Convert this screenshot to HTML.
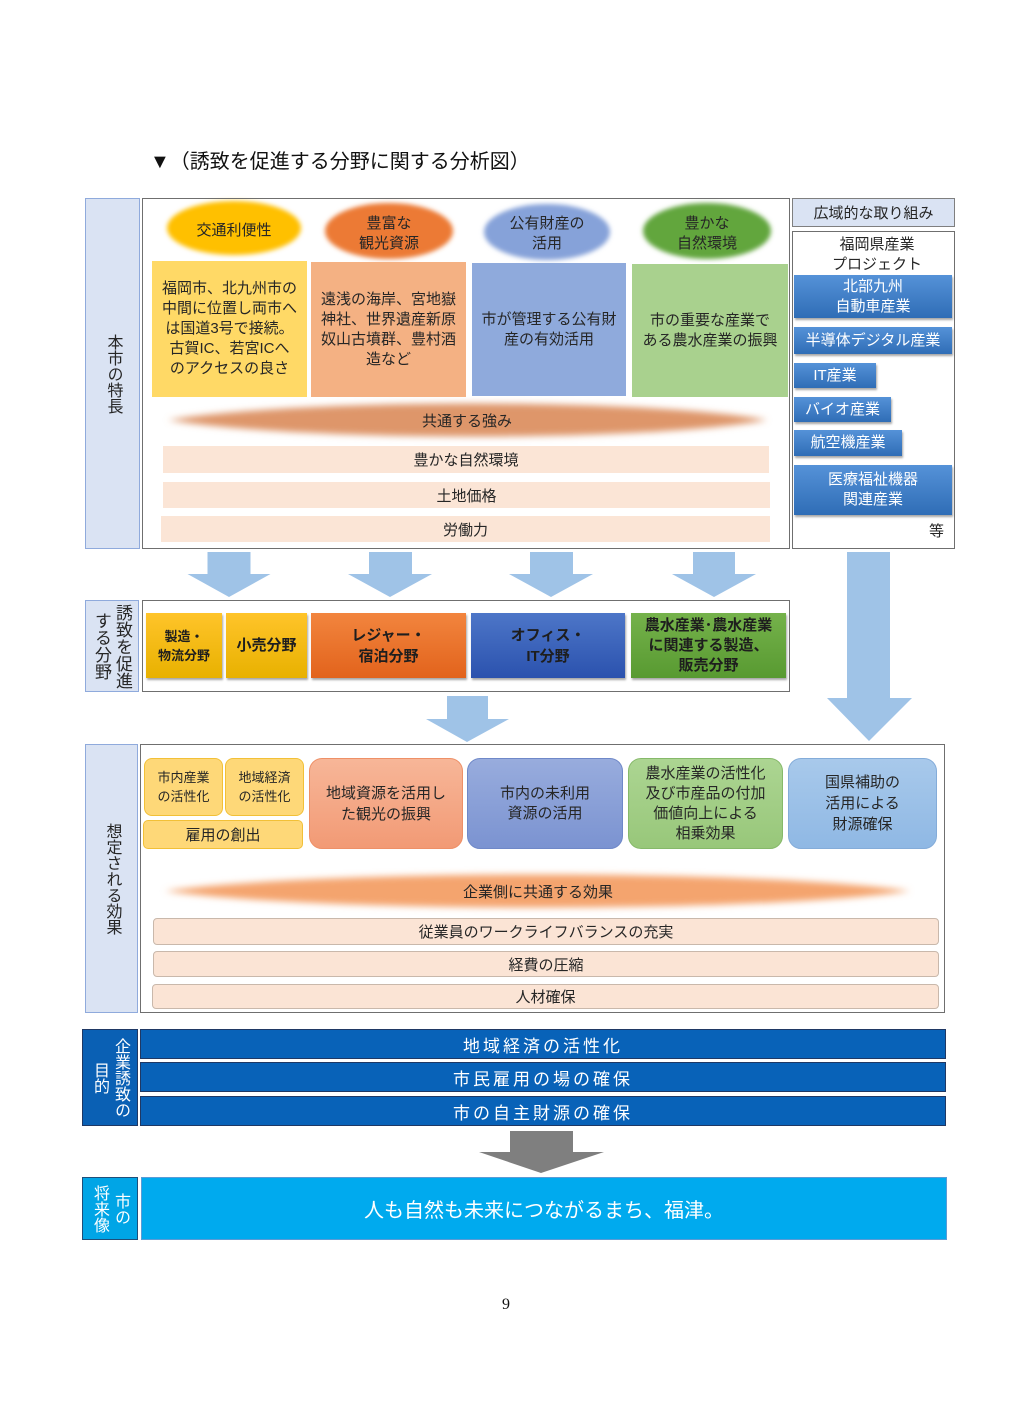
<!DOCTYPE html>
<html><head><meta charset="utf-8">
<style>
*{margin:0;padding:0;box-sizing:border-box}
body{width:1020px;height:1402px;background:#fff;position:relative;overflow:hidden;font-family:"Liberation Sans","Noto Sans CJK JP",sans-serif;color:#262626}
.a{position:absolute}
.c{display:flex;align-items:center;justify-content:center;text-align:center}
.v{writing-mode:vertical-rl;text-align:center}
.lbl{background:#dae3f3;border:1px solid #8faadc;font-size:16px;line-height:20px;color:#262626}
.frame{border:1px solid #6f6f6f}
.t15{font-size:15px;line-height:20px}
.rb{background:linear-gradient(#5592d8,#2f6db6);color:#fff;font-size:15px;line-height:20px;box-shadow:1px 2px 2px rgba(0,0,0,.35)}
.sb{font-size:15px;line-height:21px;font-weight:bold;color:#1e1e1e;box-shadow:1px 2px 2px rgba(0,0,0,.35)}
.bar1{background:#fbe5d6;font-size:15px}
.bar3{background:#fbe4d5;border:1px solid #c9b8ab;border-radius:4px;font-size:15px}
.blue{background:#0862b8;border:1px solid #1f3864;color:#fff;font-size:17px;letter-spacing:3px}
</style></head><body>

<div class="a" style="left:150px;top:151px;font-size:20px;line-height:22px;color:#111">▼（誘致を促進する分野に関する分析図）</div>

<svg class="a" style="left:0;top:0" width="1020" height="1402">
<defs>
<filter id="b1" x="-20%" y="-50%" width="140%" height="200%"><feGaussianBlur stdDeviation="2.5"/></filter>
<filter id="b2" x="-10%" y="-100%" width="120%" height="300%"><feGaussianBlur stdDeviation="3.5"/></filter>
</defs>
<ellipse cx="234" cy="228" rx="67" ry="27" fill="#ffc000" filter="url(#b1)"/>
<ellipse cx="389" cy="231" rx="64" ry="28" fill="#ec7a35" filter="url(#b1)"/>
<ellipse cx="547" cy="232" rx="63" ry="28" fill="#86a2d9" filter="url(#b1)"/>
<ellipse cx="707" cy="231" rx="64" ry="28" fill="#62a63c" filter="url(#b1)"/>
<path d="M168,420 C300,398 650,398 767,420 C650,442 300,442 168,420Z" fill="#de966a" filter="url(#b2)"/>
<path d="M165,891 C320,869 760,869 910,891 C760,913 320,913 165,891Z" fill="#f4a46e" filter="url(#b2)"/>
<g fill="#9fc3e7">
<polygon points="207.5,552 250.5,552 250.5,574 270.5,574 229,597 187.5,574 207.5,574"/>
<polygon points="369,552 412,552 412,574 432,574 390,597 348,574 369,574"/>
<polygon points="530,552 573,552 573,574 593,574 551,597 509,574 530,574"/>
<polygon points="693,552 735,552 735,574 756,574 714,597 672,574 693,574"/>
<polygon points="847,552 890,552 890,698 912,698 869,741 827,698 847,698"/>
<polygon points="447,696 488,696 488,719 509,719 467,742 426,719 447,719"/>
</g>
<polygon points="510,1131 573,1131 573,1152 604,1152 541,1173 479,1152 510,1152" fill="#7f7f7f"/>
</svg>

<!-- Section 1 -->
<div class="a c lbl" style="left:85px;top:198px;width:55px;height:351px"><div class="v">本市の特長</div></div>
<div class="a frame" style="left:142px;top:198px;width:648px;height:351px"></div>
<div class="a c" style="left:792px;top:198px;width:163px;height:29px;background:#dae3f3;border:1px solid #7f7f7f;font-size:15px">広域的な取り組み</div>
<div class="a frame" style="left:792px;top:231px;width:163px;height:318px"></div>

<div class="a c t15" style="left:167px;top:220px;width:134px;height:22px">交通利便性</div>
<div class="a c t15" style="left:324px;top:214px;width:130px;height:40px">豊富な<br>観光資源</div>
<div class="a c t15" style="left:482px;top:214px;width:130px;height:40px">公有財産の<br>活用</div>
<div class="a c t15" style="left:642px;top:214px;width:130px;height:40px">豊かな<br>自然環境</div>

<div class="a c t15" style="left:152px;top:261px;width:155px;height:136px;background:#ffd966">福岡市、北九州市の<br>中間に位置し両市へ<br>は国道3号で接続。<br>古賀IC、若宮ICへ<br>のアクセスの良さ</div>
<div class="a c t15" style="left:311px;top:262px;width:155px;height:135px;background:#f4b183">遠浅の海岸、宮地嶽<br>神社、世界遺産新原<br>奴山古墳群、豊村酒<br>造など</div>
<div class="a c t15" style="left:472px;top:263px;width:154px;height:133px;background:#8faadc">市が管理する公有財<br>産の有効活用</div>
<div class="a c t15" style="left:632px;top:264px;width:156px;height:133px;background:#a9d18e">市の重要な産業で<br>ある農水産業の振興</div>

<div class="a c" style="left:380px;top:409px;width:174px;height:22px;font-size:15px">共通する強み</div>
<div class="a c bar1" style="left:163px;top:446px;width:606px;height:27px">豊かな自然環境</div>
<div class="a c bar1" style="left:163px;top:482px;width:607px;height:26px">土地価格</div>
<div class="a c bar1" style="left:161px;top:516px;width:609px;height:26px">労働力</div>

<div class="a c t15" style="left:792px;top:235px;width:170px;height:40px;font-size:15px">福岡県産業<br>プロジェクト</div>
<div class="a c rb" style="left:794px;top:275px;width:158px;height:43px">北部九州<br>自動車産業</div>
<div class="a c rb" style="left:794px;top:327px;width:158px;height:27px">半導体デジタル産業</div>
<div class="a c rb" style="left:794px;top:363px;width:82px;height:25px">IT産業</div>
<div class="a c rb" style="left:794px;top:397px;width:97px;height:25px">バイオ産業</div>
<div class="a c rb" style="left:794px;top:430px;width:108px;height:26px">航空機産業</div>
<div class="a c rb" style="left:794px;top:465px;width:158px;height:50px">医療福祉機器<br>関連産業</div>
<div class="a" style="left:929px;top:522px;font-size:15px;line-height:20px">等</div>

<!-- Section 2 -->
<div class="a c lbl" style="left:85px;top:600px;width:54px;height:92px;font-size:17px"><div class="v" style="line-height:21px">誘致を促進<br>する分野</div></div>
<div class="a frame" style="left:142px;top:600px;width:648px;height:92px"></div>
<div class="a c sb" style="left:146px;top:613px;width:76px;height:65px;font-size:13px;line-height:19px;background:linear-gradient(#ffc42a,#e8b100)">製造・<br>物流分野</div>
<div class="a c sb" style="left:226px;top:613px;width:81px;height:65px;background:linear-gradient(#ffc42a,#e8b100)">小売分野</div>
<div class="a c sb" style="left:311px;top:613px;width:155px;height:65px;background:linear-gradient(#f2853e,#e2631c)">レジャー・<br>宿泊分野</div>
<div class="a c sb" style="left:471px;top:613px;width:154px;height:65px;background:linear-gradient(#4d76c8,#2b52ae)">オフィス・<br>IT分野</div>
<div class="a c sb" style="left:631px;top:613px;width:155px;height:65px;line-height:20px;background:linear-gradient(#75b24b,#589a31)">農水産業･農水産業<br>に関連する製造、<br>販売分野</div>

<!-- Section 3 -->
<div class="a c lbl" style="left:85px;top:744px;width:53px;height:269px"><div class="v">想定される効果</div></div>
<div class="a frame" style="left:140px;top:744px;width:805px;height:269px"></div>
<div class="a c" style="left:144px;top:758px;width:79px;height:58px;background:#fed878;border:1px solid #f2c037;border-radius:8px;font-size:13px;line-height:19px">市内産業<br>の活性化</div>
<div class="a c" style="left:225px;top:758px;width:79px;height:58px;background:#fed878;border:1px solid #f2c037;border-radius:8px;font-size:13px;line-height:19px">地域経済<br>の活性化</div>
<div class="a c" style="left:143px;top:820px;width:160px;height:29px;background:#fed878;border:1px solid #f2c037;border-radius:5px;font-size:15px">雇用の創出</div>
<div class="a c t15" style="left:309px;top:758px;width:154px;height:91px;background:linear-gradient(#f7b698,#f29a75);border:1px solid #ee9067;border-radius:13px;line-height:21px">地域資源を活用し<br>た観光の振興</div>
<div class="a c t15" style="left:467px;top:758px;width:156px;height:91px;background:linear-gradient(#98acdd,#7b93d1);border:1px solid #6f88c8;border-radius:13px">市内の未利用<br>資源の活用</div>
<div class="a c t15" style="left:628px;top:758px;width:155px;height:91px;background:linear-gradient(#acd592,#98c77a);border:1px solid #86b96a;border-radius:13px">農水産業の活性化<br>及び市産品の付加<br>価値向上による<br>相乗効果</div>
<div class="a c t15" style="left:788px;top:758px;width:149px;height:91px;background:linear-gradient(#a8c9eb,#8fb8e4);border:1px solid #84acd9;border-radius:13px;line-height:21px">国県補助の<br>活用による<br>財源確保</div>

<div class="a c" style="left:440px;top:880px;width:196px;height:22px;font-size:15px">企業側に共通する効果</div>
<div class="a c bar3" style="left:153px;top:918px;width:786px;height:27px">従業員のワークライフバランスの充実</div>
<div class="a c bar3" style="left:153px;top:951px;width:786px;height:26px">経費の圧縮</div>
<div class="a c bar3" style="left:152px;top:984px;width:787px;height:25px">人材確保</div>

<!-- Section 4 -->
<div class="a c" style="left:82px;top:1029px;width:56px;height:97px;background:#0a60b4;border:1px solid #1f3864;color:#fff;font-size:16px"><div class="v" style="line-height:21px">企業誘致の<br>目的</div></div>
<div class="a c blue" style="left:140px;top:1029px;width:806px;height:30px">地域経済の活性化</div>
<div class="a c blue" style="left:140px;top:1062px;width:806px;height:30px">市民雇用の場の確保</div>
<div class="a c blue" style="left:140px;top:1096px;width:806px;height:30px">市の自主財源の確保</div>

<!-- Section 5 -->
<div class="a c" style="left:82px;top:1177px;width:56px;height:63px;background:#00a5e6;border:1px solid #1f4e79;color:#fff;font-size:16px"><div class="v" style="line-height:21px">市の<br>将来像</div></div>
<div class="a c" style="left:141px;top:1177px;width:806px;height:63px;background:#00aaee;border:1px solid #5b9bd5;color:#fff;font-size:20px">人も自然も未来につながるまち、福津。</div>

<div class="a" style="left:502px;top:1296px;font-family:'Liberation Serif',serif;font-size:16px;color:#111">9</div>
</body></html>
